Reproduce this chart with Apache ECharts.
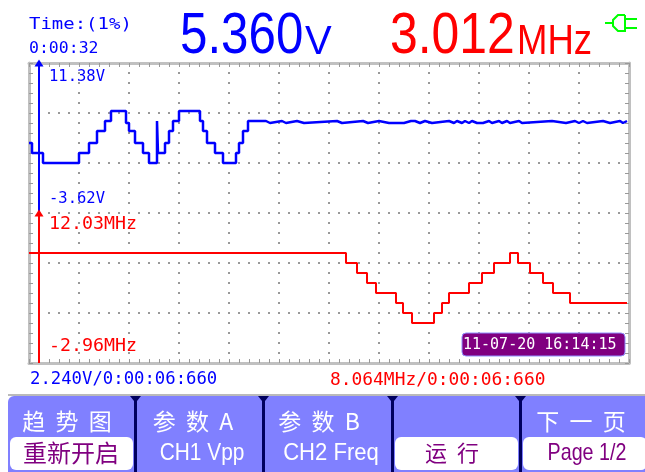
<!DOCTYPE html>
<html><head><meta charset="utf-8">
<style>html,body{margin:0;padding:0;background:#fff}#c{width:645px;height:472px}</style>
<script src="https://cdn.jsdelivr.net/npm/echarts@6/dist/echarts.min.js"></script>
</head><body><div id="c"></div>
<script>
// sample position along the trace, then level at that sample
const ch1Samples=[0,3,14,50,60,68,76,82,97,100,106,114,120,128,129,136,140,144,150,171,174,178,186,194,207,210,214,219,237,241,253,257,268,275,308,313,334,339,350,360,362,375,382,384,386,391,396,403,420,425,428,433,436,440,443,448,449,454,460,463,470,473,478,481,490,493,523,537,546,550,554,558,574,581,591,594,598];
const ch1Volts=[3.38,2.38,1.38,2.38,3.38,4.58,5.58,6.58,5.38,4.58,3.38,2.38,1.38,5.58,2.38,3.38,4.58,5.58,6.58,5.58,4.58,3.38,2.38,1.38,2.38,3.38,4.58,5.58,5.38,5.58,5.38,5.58,5.38,5.58,5.38,5.58,5.38,5.58,5.38,5.58,5.38,5.58,5.38,5.58,5.38,5.58,5.38,5.58,5.38,5.58,5.38,5.58,5.38,5.58,5.38,5.58,5.38,5.58,5.38,5.58,5.38,5.58,5.38,5.58,5.38,5.58,5.38,5.58,5.38,5.58,5.38,5.58,5.38,5.58,5.38,5.58,5.58];
const ch2Samples=[0,317,328,338,347,367,374,383,405,413,420,440,453,465,481,489,501,514,524,541,598];
const ch2MHz=[8.03,7.03,6.03,5.03,4.03,3.03,2.03,1.03,2.03,3.03,4.03,5.03,6.03,7.03,8.03,7.03,6.03,5.03,4.03,3.03,3.03];
const ch1Range=[11.38,-3.62];
const ch2Range=[12.03,-2.96];
const ch1Labels=['11.38V','-3.62V','2.240V/0:00:06:660'];
const ch2Labels=['12.03MHz','-2.96MHz','8.064MHz/0:00:06:660'];
const header=['Time:(1%)','0:00:32','5.360','V','3.012','MHz'];
const stamp='11-07-20 16:14:15';
const menuTop=['趋  势  图','参  数  A','参  数  B','','下  一  页'];
const menuBottom=['重新开启','CH1 Vpp','CH2 Freq','运  行','Page 1/2'];
const menuSelected=[true,false,false,true,true];

const BLUE='#0000ff',RED='#ff0000',PURPLE='#800080',MENU='#8080ff',NAVY='#000060';
const MONO='"DejaVu Sans Mono",monospace',SANS='"Liberation Sans",Arial,sans-serif',CJK='"Noto Sans CJK SC",sans-serif';
const toPairs=(xs,ys)=>xs.map((x,i)=>[x,ys[i]]);
const txt=(text,x,y,fill,font,extra)=>Object.assign({type:'text',x,y,z:20,style:{text,fill,font,textVerticalAlign:'middle',textAlign:(extra&&extra.align)||'left'}},extra&&extra.el);
const rect=(x,y,width,height,fill,r)=>({type:'rect',z:10,shape:{x,y,width,height,r:r||0},style:{fill}});

const g=[];
g.push(txt(header[0],29,25,BLUE,'16.5px '+MONO,{el:{scaleX:1.15}}));
g.push(txt(header[1],29,49,BLUE,'16.5px '+MONO));
g.push(txt(header[2],180,37,BLUE,'58px '+SANS,{el:{scaleX:0.85}}));
g.push(txt(header[3],305,42.5,BLUE,'40px '+SANS));
g.push(txt(header[4],390,37,RED,'58px '+SANS,{el:{scaleX:0.86}}));
g.push(txt(header[5],517,42.5,RED,'42px '+SANS,{el:{scaleX:0.87}}));
g.push(txt(ch1Labels[0],49,77,BLUE,'15.5px '+MONO));
g.push(txt(ch1Labels[1],49,199,BLUE,'15.5px '+MONO));
g.push(txt(ch2Labels[0],49,224,RED,'18.3px '+MONO));
g.push(txt(ch2Labels[1],49,346,RED,'18.3px '+MONO));
g.push(txt(ch1Labels[2],30,380,BLUE,'17.3px '+MONO));
g.push(txt(ch2Labels[2],330,380,RED,'17.9px '+MONO));
// date stamp
g.push({type:'rect',z:15,shape:{x:462,y:333,width:163,height:23,r:4},style:{fill:PURPLE,stroke:'#9090ff',lineWidth:1}});
g.push(txt(stamp,463,345,'#fff','15px '+MONO,{el:{z:20}}));
// plug
const GREEN='#00ff00';
[[[605,23],[613,23]],[[625,15],[618,15],[613,20],[613,26],[618,31],[625,31],[625,15]],[[625,19],[637,19]],[[625,28],[637,28]]].forEach(p=>g.push({type:'polyline',z:20,shape:{points:p},style:{stroke:GREEN,lineWidth:2,fill:null}}));
// menu
g.push(rect(8,396,640,76,MENU,[6,0,0,0]));
g.push(rect(8,394.5,640,1,'#777'));
[134,262,391,519].forEach(x=>{g.push(rect(x,396,3,76,NAVY));g.push({type:'polygon',z:11,shape:{points:[[x-4,396],[x+7,396],[x+3,401],[x,401]]},style:{fill:NAVY}});});
const topCenters=[67,193,319,456,581];
const bottomCenters=[71,202,331,452,587];
const latinWidth=[1,0.87,0.92,1,0.82];
const pills=[[10,123],null,null,[395,123],[523,124]];
menuTop.forEach((t,i)=>{if(t)g.push(txt(t,topCenters[i],421,'#fff','23px '+CJK,{align:'center'}));});
menuBottom.forEach((t,i)=>{
 if(pills[i])g.push(rect(pills[i][0],437,pills[i][1],33,'#fff',6));
 const cjk=/[^\x00-\x7f]/.test(t);
 const font=i==3?'22px '+CJK:(cjk?'24px '+CJK:'24px '+SANS);
 g.push(txt(t,bottomCenters[i],453,menuSelected[i]?PURPLE:'#fff',font,Object.assign({align:'center'},cjk?{}:{el:{scaleX:latinWidth[i]}})));
});

const GRAY='#c0c0c0';
const frame=(pos,extra)=>Object.assign({type:'value',position:pos,min:0,silent:true,interval:50,splitNumber:5,
  axisLine:{show:true,onZero:false,lineStyle:{color:GRAY,width:3}},
  axisTick:{show:true,inside:true,length:4,lineStyle:{color:'#999',width:1}},
  minorTick:{show:true,splitNumber:5,length:4,lineStyle:{color:'#999',width:1}},
  axisLabel:{show:false},splitLine:{show:false}},extra);
const dots={show:true,lineStyle:{color:'#999',width:2,type:[2,8],dashOffset:1}};
const option={
 animation:false,backgroundColor:'#fff',
 grid:{left:29,top:63,width:600,height:300},
 xAxis:[frame('bottom',{max:600,splitLine:dots}),frame('top',{max:600})],
 yAxis:[frame('left',{max:300,splitLine:dots}),frame('right',{max:300}),
  {type:'value',show:false,min:-18.62,max:11.38,splitLine:{show:false}},
  {type:'value',show:false,min:-2.96,max:27.04,splitLine:{show:false}}],
 graphic:{elements:g},
 series:[
  {type:'line',name:'CH1',xAxisIndex:0,yAxisIndex:2,step:'end',showSymbol:false,data:toPairs(ch1Samples,ch1Volts),lineStyle:{color:BLUE,width:2.5},
   markLine:{silent:true,animation:false,label:{show:false},lineStyle:{color:BLUE,width:2,type:'solid'},data:[[{coord:[10,ch1Range[1]],symbol:'none'},{coord:[10,ch1Range[0]],symbol:'triangle',symbolSize:[9,7]}]]}},
  {type:'line',name:'CH2',xAxisIndex:0,yAxisIndex:3,step:'end',showSymbol:false,data:toPairs(ch2Samples,ch2MHz),lineStyle:{color:RED,width:2},
   markLine:{silent:true,animation:false,label:{show:false},lineStyle:{color:RED,width:2,type:'solid'},data:[[{coord:[10,ch2Range[1]],symbol:'none'},{coord:[10,ch2Range[0]],symbol:'triangle',symbolSize:[9,7]}]]}}
 ]};
echarts.init(document.getElementById('c')).setOption(option);
</script></body></html>
